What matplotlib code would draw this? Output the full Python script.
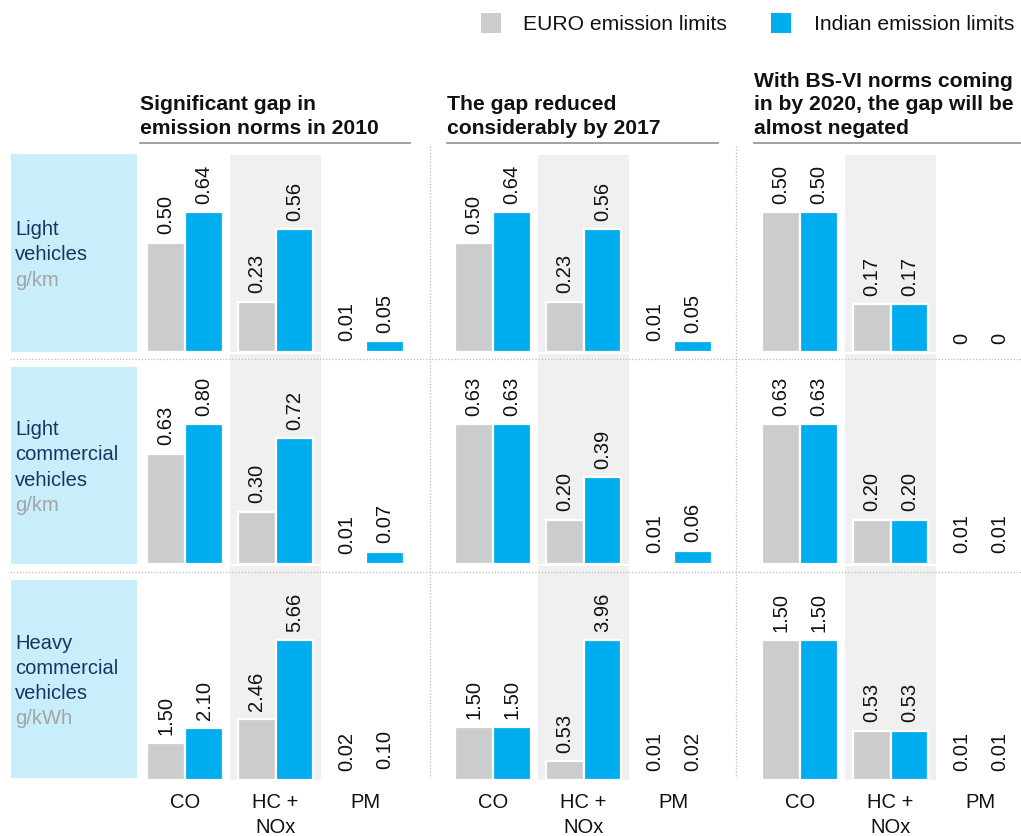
import matplotlib
matplotlib.use("Agg")
import matplotlib.pyplot as plt
from matplotlib.patches import Rectangle
from matplotlib.lines import Line2D

plt.rcParams['font.family'] = ['Liberation Sans', 'DejaVu Sans']

# ---------------- data ----------------
pollutants = ["CO", "HC +\nNOx", "PM"]
series_names = ["EURO emission limits", "Indian emission limits"]
headings = [
    "Significant gap in\nemission norms in 2010",
    "The gap reduced\nconsiderably by 2017",
    "With BS-VI norms coming\nin by 2020, the gap will be\nalmost negated",
]
row_names = ["Light\nvehicles", "Light\ncommercial\nvehicles", "Heavy\ncommercial\nvehicles"]
row_units = ["g/km", "g/km", "g/kWh"]

# euro[row][panel] -> values for CO, HC+NOx, PM
euro = [
    [[0.50, 0.23, 0.01], [0.50, 0.23, 0.01], [0.50, 0.17, 0.0]],
    [[0.63, 0.30, 0.01], [0.63, 0.20, 0.01], [0.63, 0.20, 0.01]],
    [[1.50, 2.46, 0.02], [1.50, 0.53, 0.01], [1.50, 0.53, 0.01]],
]
india = [
    [[0.64, 0.56, 0.05], [0.64, 0.56, 0.05], [0.50, 0.17, 0.0]],
    [[0.80, 0.72, 0.07], [0.63, 0.39, 0.06], [0.63, 0.20, 0.01]],
    [[2.10, 5.66, 0.10], [1.50, 3.96, 0.02], [1.50, 0.53, 0.01]],
]

GREY = "#CBCCCE"
BLUE = "#00AEEF"
SHADE = "#F0F0F0"
BOXC = "#C8EEFC"
NAVY = "#17365F"
UNITC = "#A3A3A3"

W, H = 1021, 836
fig = plt.figure(figsize=(W / 100, H / 100), dpi=100)

def fx(x):
    return x / W

def fy(y):
    return 1 - y / H

rows_top = [154, 353, 565]
rows_bot = [352, 564, 780]
panel_left = [140, 448, 755]
panel_w = 271
bar_px = 140.0
FS = 14.5
FS_BIG = 15.2

for r in range(3):
    for p in range(3):
        top, bot = rows_top[r], rows_bot[r]
        ax = fig.add_axes([fx(panel_left[p]), fy(bot), panel_w / W, (bot - top) / H])
        vals_e = euro[r][p]
        vals_i = india[r][p]
        vmax = max(vals_e + vals_i)
        ax.set_xlim(0, 3)
        ax.set_ylim(0, vmax * (bot - top) / bar_px)
        ax.axvspan(1.0, 2.0, ymax=(bot - top - 1) / (bot - top), color=SHADE, zorder=0, lw=0)
        xs = [0.5, 1.5, 2.5]
        for vals, off, col in [(vals_e, -0.21, GREY), (vals_i, 0.21, BLUE)]:
            pos = [x + off for x in xs]
            ax.bar(pos, vals, width=0.42, color=col, edgecolor="white",
                   linewidth=1.6, zorder=2)
            for xp, v in zip(pos, vals):
                lab = f"{v:.2f}" if v else "0"
                ax.annotate(lab, (xp, v), xytext=(0, 6.0), textcoords="offset points",
                            rotation=90, ha="center", va="bottom", fontsize=FS,
                            color="#111111", zorder=3)
        for s in ax.spines.values():
            s.set_visible(False)
        ax.set_yticks([])
        if r == 2:
            ax.set_xticks(xs)
            ax.set_xticklabels(pollutants, fontsize=FS, color="#111111",
                               linespacing=1.42)
            ax.tick_params(axis="x", length=0, pad=9.5)
        else:
            ax.set_xticks([])
        ax.patch.set_alpha(0)

# row label boxes
boxes = [(154, 352), (367, 564), (580, 778)]
for (t, b), name, unit in zip(boxes, row_names, row_units):
    fig.patches.append(Rectangle((fx(11), fy(b)), (137 - 11) / W, (b - t) / H,
                                 transform=fig.transFigure, color=BOXC, lw=0, zorder=0))
    lines = name.split("\n") + [unit]
    n = len(lines)
    cy = (t + b) / 2
    step = 25.3
    for i, ln in enumerate(lines):
        yy = cy + (i - (n - 1) / 2) * step
        fig.text(fx(15), fy(yy), ln, fontsize=FS, ha="left", va="center_baseline",
                 color=UNITC if i == n - 1 else NAVY)

# headings with underline
heading_x = [140, 447, 754]
heading_end = [410, 718, 1021]
for hx, he, txt in zip(heading_x, heading_end, headings):
    fig.text(fx(hx), fy(138), txt, fontsize=FS_BIG, fontweight="bold", ha="left",
             va="bottom", color="#111111", linespacing=1.3)
    fig.add_artist(Line2D([fx(hx), fx(he)], [fy(143), fy(143)], color="#9A9A9A",
                          lw=1.3, transform=fig.transFigure))

# dotted separators
for yy in [359, 572]:
    fig.add_artist(Line2D([fx(10), fx(1021)], [fy(yy), fy(yy)], color="#BDBDBD",
                          lw=0.9, ls=(0, (1, 1.5)), transform=fig.transFigure))
for xx in [430, 736]:
    fig.add_artist(Line2D([fx(xx), fx(xx)], [fy(146), fy(778)], color="#BDBDBD",
                          lw=0.9, ls=(0, (1, 1.5)), transform=fig.transFigure))

# legend
for sx, tx, col, name in [(481, 523, GREY, series_names[0]), (771, 814, BLUE, series_names[1])]:
    fig.patches.append(Rectangle((fx(sx), fy(33)), 20 / W, 20 / H,
                                 transform=fig.transFigure, color=col, lw=0))
    fig.text(fx(tx), fy(24), name, fontsize=FS_BIG, ha="left", va="center",
             color="#111111")

fig.savefig("out.png", dpi=100)
